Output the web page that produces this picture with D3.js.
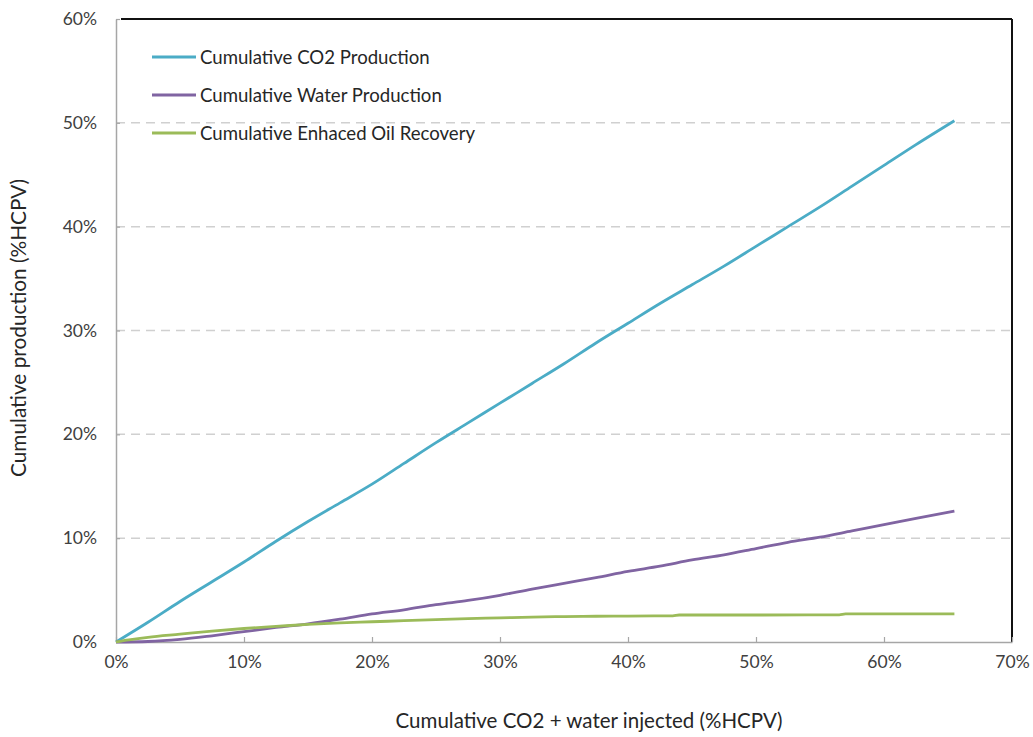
<!DOCTYPE html>
<html>
<head>
<meta charset="utf-8">
<script src="https://cdn.jsdelivr.net/npm/d3@7"></script>
<style>
  html, body { margin: 0; padding: 0; background: #fff; }
  svg { display: block; font-family: Lato, "Open Sans", sans-serif; }
</style>
</head>
<body>
<svg id="chart" width="1033" height="737"></svg>
<script>
// ---- data (percent of HCPV) ----
const injected = [0, 2.5, 5, 7.5, 10, 12.5, 15, 17.5, 20, 22.5, 25, 27.5, 30, 32.5, 35, 37.5, 40, 42.5, 45, 47.5, 50, 52.5, 55, 57.5, 60, 62.5, 65.5];
const co2Production = [0, 1.9, 3.9, 5.8, 7.7, 9.7, 11.6, 13.4, 15.2, 17.2, 19.2, 21.1, 23.0, 24.9, 26.8, 28.8, 30.7, 32.6, 34.4, 36.2, 38.1, 40.0, 41.9, 43.9, 45.9, 47.9, 50.2];
const waterProduction = [0, 0.05, 0.25, 0.6, 1.0, 1.4, 1.75, 2.2, 2.7, 3.1, 3.6, 4.0, 4.5, 5.1, 5.65, 6.2, 6.8, 7.3, 7.9, 8.4, 9.0, 9.6, 10.1, 10.7, 11.3, 11.9, 12.6];
const eorInjected = [0, 1, 2.5, 5, 7.5, 10, 12.5, 15, 17.5, 20, 22.5, 25, 27.5, 30, 32.5, 35, 37.5, 40, 43.5, 44, 50, 56.5, 57, 65.5];
const eorRecovery = [0, 0.2, 0.45, 0.75, 1.05, 1.3, 1.5, 1.7, 1.85, 1.95, 2.05, 2.15, 2.25, 2.32, 2.4, 2.45, 2.48, 2.5, 2.52, 2.6, 2.6, 2.62, 2.7, 2.7];
const seriesNames = ["Cumulative CO2 Production", "Cumulative Water Production", "Cumulative Enhaced Oil Recovery"];
const seriesColors = ["#4bacc6", "#8064a2", "#9bbb59"];
const xTicks = [0, 10, 20, 30, 40, 50, 60, 70];
const yTicks = [0, 10, 20, 30, 40, 50, 60];
const xTitle = "Cumulative CO2 + water injected (%HCPV)";
const yTitle = "Cumulative production (%HCPV)";

const series = [
  { name: seriesNames[0], color: seriesColors[0], pts: injected.map((x, i) => [x, co2Production[i]]) },
  { name: seriesNames[1], color: seriesColors[1], pts: injected.map((x, i) => [x, waterProduction[i]]) },
  { name: seriesNames[2], color: seriesColors[2], pts: eorInjected.map((x, i) => [x, eorRecovery[i]]) }
];

const svg = d3.select("#chart");
const L = 116, R = 1012, T = 19, B = 642;
const x = d3.scaleLinear().domain([0, 70]).range([L, R]);
const y = d3.scaleLinear().domain([0, 60]).range([B, T]);

// gridlines
svg.append("g").selectAll("line").data(yTicks.filter(d => d > 0 && d < 60)).join("line")
  .attr("x1", L).attr("x2", R)
  .attr("y1", d => y(d)).attr("y2", d => y(d))
  .attr("stroke", "#d0d0d0").attr("stroke-width", 1.5)
  .attr("stroke-dasharray", "9,6");

// top and right frame (black)
svg.append("line").attr("x1", L + 5).attr("x2", R).attr("y1", T).attr("y2", T)
  .attr("stroke", "#111").attr("stroke-width", 2);
svg.append("line").attr("x1", R).attr("x2", R).attr("y1", T).attr("y2", B)
  .attr("stroke", "#111").attr("stroke-width", 2);

// axes
const xAxis = d3.axisBottom(x).tickValues(xTicks).tickFormat(d => d + "%").tickSizeInner(-5).tickSizeOuter(0).tickPadding(14);
const yAxis = d3.axisLeft(y).tickValues(yTicks).tickFormat(d => d + "%").tickSizeInner(-4).tickSizeOuter(0).tickPadding(19);

const gx = svg.append("g").attr("transform", `translate(0,${B})`).call(xAxis);
const gy = svg.append("g").attr("transform", `translate(${L},0)`).call(yAxis);
[gx, gy].forEach(g => {
  g.select(".domain").attr("stroke", "#a6a6a6").attr("stroke-width", 1.5);
  g.selectAll(".tick line").attr("stroke", "#a6a6a6").attr("stroke-width", 1.2);
  g.selectAll(".tick text").attr("fill", "#404040").attr("font-size", 17.5).attr("font-family", "Lato, 'Open Sans', sans-serif");
});

// lines
const line = d3.line().x(d => x(d[0])).y(d => y(d[1])).curve(d3.curveMonotoneX);
svg.append("g").selectAll("path").data(series).join("path")
  .attr("d", d => line(d.pts))
  .attr("fill", "none")
  .attr("stroke", d => d.color)
  .attr("stroke-width", 2.8)
  .attr("stroke-linejoin", "round");

// legend
const leg = svg.append("g");
series.forEach((s, i) => {
  const ly = 57 + i * 38;
  leg.append("line").attr("x1", 152).attr("x2", 196).attr("y1", ly).attr("y2", ly)
    .attr("stroke", s.color).attr("stroke-width", 2.8);
  leg.append("text").attr("x", 200).attr("y", ly).attr("dy", "0.35em")
    .attr("font-size", 18.6).attr("fill", "#262626").text(s.name);
});

// axis titles
svg.append("text").attr("x", 589).attr("y", 728).attr("text-anchor", "middle")
  .attr("font-size", 20.5).attr("fill", "#262626").text(xTitle);
svg.append("text").attr("transform", "translate(26,328) rotate(-90)").attr("text-anchor", "middle")
  .attr("font-size", 20.8).attr("fill", "#262626").text(yTitle);
</script>
</body>
</html>
